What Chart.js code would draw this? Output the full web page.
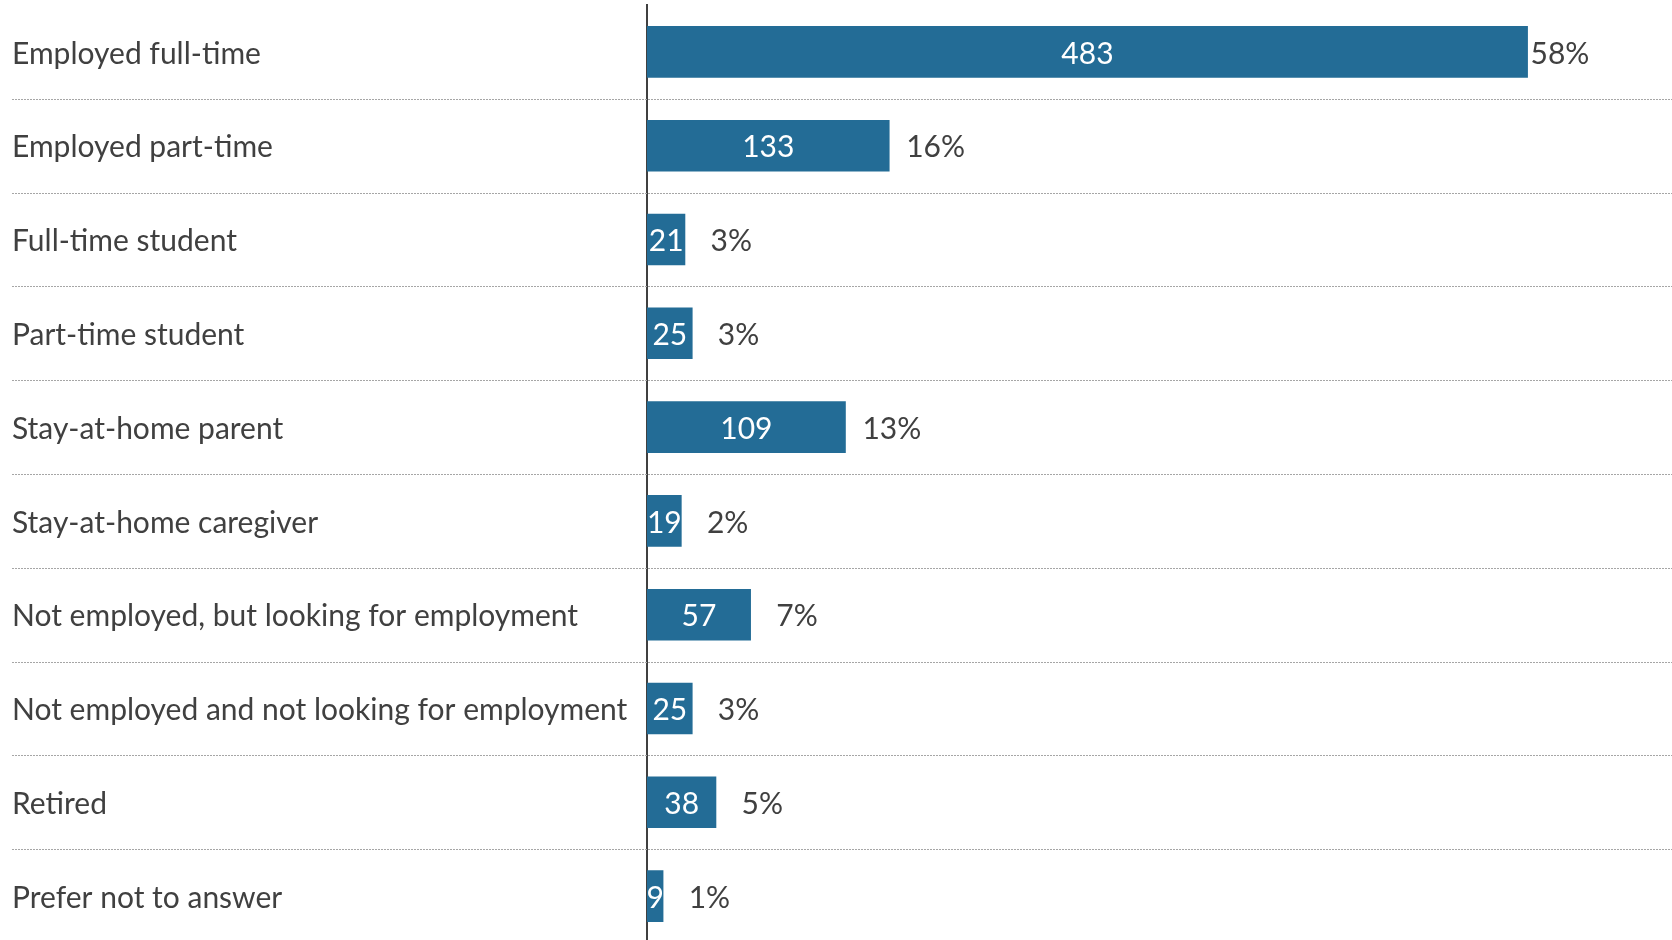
<!DOCTYPE html>
<html>
<head>
<meta charset="utf-8">
<script src="https://cdn.jsdelivr.net/npm/chart.js@4.4.1/dist/chart.umd.min.js"></script>
<style>
  html, body { margin: 0; padding: 0; background: #fff; overflow: hidden; }
  #wrap { width: 1672px; height: 943px; position: relative; }
</style>
</head>
<body>
<div id="wrap"><canvas id="chart"></canvas></div>
<script>
const categories = [
  'Employed full-time',
  'Employed part-time',
  'Full-time student',
  'Part-time student',
  'Stay-at-home parent',
  'Stay-at-home caregiver',
  'Not employed, but looking for employment',
  'Not employed and not looking for employment',
  'Retired',
  'Prefer not to answer'
];
const counts = [483, 133, 21, 25, 109, 19, 57, 25, 38, 9];
const percents = ['58%', '16%', '3%', '3%', '13%', '2%', '7%', '3%', '5%', '1%'];

const FONT = 'Lato, "Open Sans", sans-serif';
const BAR = '#236c96';
const TEXT = '#404040';

// dotted separators between rows, running under the labels too
const separators = {
  id: 'separators',
  beforeDatasetsDraw(chart){
    const y = chart.scales.y, ctx = chart.ctx;
    ctx.save();
    ctx.strokeStyle = '#a6a6a6';
    ctx.lineWidth = 1;
    ctx.setLineDash([2, 1]);
    for(let i=1;i<categories.length;i++){
      const py = Math.round((y.getPixelForValue(i-1) + y.getPixelForValue(i))/2) + 0.5;
      ctx.beginPath(); ctx.moveTo(12, py); ctx.lineTo(chart.width, py); ctx.stroke();
    }
    ctx.restore();
  }
};

const barLabels = {
  id: 'barLabels',
  afterDatasetsDraw(chart){
    const ctx = chart.ctx;
    const meta = chart.getDatasetMeta(0);
    ctx.save();
    ctx.font = '30px ' + FONT;
    ctx.textBaseline = 'middle';
    meta.data.forEach((bar, i) => {
      const mid = (bar.x + bar.base)/2;
      const ty = bar.y + 2;
      ctx.fillStyle = '#fff';
      ctx.textAlign = 'center';
      ctx.fillText(String(counts[i]), mid, ty);
      ctx.fillStyle = TEXT;
      // widest label sits closer to its bar, as in the source
      const gap = counts[i] === Math.max(...counts) ? 32 : 46;
      ctx.fillText(percents[i], bar.x + gap, ty);
    });
    ctx.restore();
  }
};

new Chart(document.getElementById('chart'), {
  type: 'bar',
  data: {
    labels: categories,
    datasets: [{
      data: counts,
      backgroundColor: BAR,
      borderWidth: 0,
      barPercentage: 0.55,
      categoryPercentage: 1
    }]
  },
  options: {
    indexAxis: 'y',
    responsive: true,
    maintainAspectRatio: false,
    animation: false,
    layout: { padding: { left: 12, top: 5, right: 0, bottom: 0 } },
    plugins: { legend: { display: false }, tooltip: { enabled: false } },
    scales: {
      x: { display: false, min: 0, max: 562 },
      y: {
        afterFit(scale){ scale.width = 635; scale.paddingTop = 0; scale.paddingBottom = 0; },
        grid: { display: false, drawTicks: false },
        border: { display: true, color: '#404040', width: 2 },
        ticks: {
          crossAlign: 'far',
          padding: 0,
          labelOffset: 2,
          color: TEXT,
          font: { family: FONT, size: 30 }
        }
      }
    }
  },
  plugins: [separators, barLabels]
});
</script>
</body>
</html>
